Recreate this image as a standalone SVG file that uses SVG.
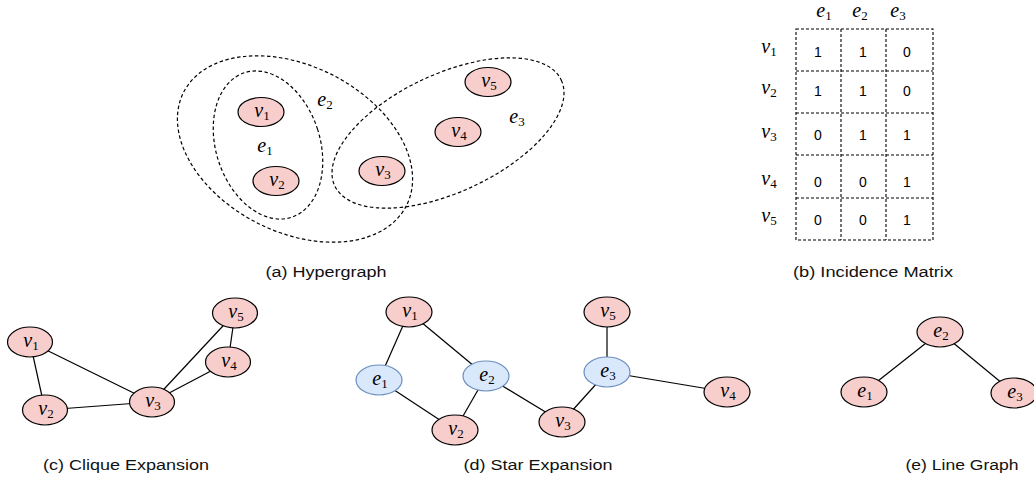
<svg xmlns="http://www.w3.org/2000/svg" width="1034" height="481" viewBox="0 0 1034 481">
<style>
.n{fill:#f8cecc;stroke:#000;stroke-width:1.2}
.b{fill:#dae8fc;stroke:#6c8ebf;stroke-width:1.2}
.h{fill:none;stroke:#000;stroke-width:1.2;stroke-dasharray:3.5 2.5}
.g{fill:none;stroke:#000;stroke-width:1.1;stroke-dasharray:3 2}
.e{stroke:#000;stroke-width:1.2;fill:none}
.m{font-family:"Liberation Serif","DejaVu Serif",serif;font-style:italic;font-size:20px;text-anchor:middle}
.s{font-size:13px;font-style:normal}
.c{font-family:"Liberation Sans",Arial,sans-serif;font-size:14px;text-anchor:middle;fill:#111}
.d{font-family:"Liberation Sans",Arial,sans-serif;font-size:14px;text-anchor:middle}
</style>
<rect width="1034" height="481" fill="#fff"/>

<!-- (a) Hypergraph -->
<g id="hyperedges">
<ellipse class="h" cx="268" cy="145" rx="52" ry="76" transform="rotate(-18 268 145)"/>
<ellipse class="h" cx="295" cy="149" rx="125" ry="83" transform="rotate(27 295 149)"/>
<ellipse class="h" cx="448" cy="133" rx="125" ry="59" transform="rotate(-25 448 133)"/>
</g>
<g id="a-labels">
<text class="m" x="265" y="152">e<tspan class="s" dy="3">1</tspan></text>
<text class="m" x="325" y="106">e<tspan class="s" dy="3">2</tspan></text>
<text class="m" x="517" y="123">e<tspan class="s" dy="3">3</tspan></text>
</g>
<g id="a-v1"><ellipse class="n" cx="261" cy="112" rx="23" ry="14.5"/><text class="m" x="262" y="117">v<tspan class="s" dy="3">1</tspan></text></g>
<g id="a-v2"><ellipse class="n" cx="276" cy="181" rx="23" ry="14.5"/><text class="m" x="277" y="186">v<tspan class="s" dy="3">2</tspan></text></g>
<g id="a-v3"><ellipse class="n" cx="382" cy="171" rx="23" ry="14.5"/><text class="m" x="383" y="176">v<tspan class="s" dy="3">3</tspan></text></g>
<g id="a-v4"><ellipse class="n" cx="458" cy="132" rx="23" ry="14.5"/><text class="m" x="459" y="137">v<tspan class="s" dy="3">4</tspan></text></g>
<g id="a-v5"><ellipse class="n" cx="488" cy="82" rx="23" ry="14.5"/><text class="m" x="489" y="87">v<tspan class="s" dy="3">5</tspan></text></g>
<text class="c" x="326" y="277" textLength="121" lengthAdjust="spacingAndGlyphs">(a) Hypergraph</text>

<!-- (b) Incidence Matrix -->
<g id="matrix">
<rect class="g" x="796" y="29" width="137" height="211"/>
<line class="g" x1="841" y1="29" x2="841" y2="240"/>
<line class="g" x1="886" y1="29" x2="886" y2="240"/>
<line class="g" x1="796" y1="71" x2="933" y2="71"/>
<line class="g" x1="796" y1="113" x2="933" y2="113"/>
<line class="g" x1="796" y1="155" x2="933" y2="155"/>
<line class="g" x1="796" y1="198" x2="933" y2="198"/>
<text class="m" x="824" y="17">e<tspan class="s" dy="3">1</tspan></text>
<text class="m" x="860" y="17">e<tspan class="s" dy="3">2</tspan></text>
<text class="m" x="898" y="17">e<tspan class="s" dy="3">3</tspan></text>
<text class="m" x="769" y="53">v<tspan class="s" dy="3">1</tspan></text>
<text class="m" x="769" y="94">v<tspan class="s" dy="3">2</tspan></text>
<text class="m" x="769" y="138">v<tspan class="s" dy="3">3</tspan></text>
<text class="m" x="769" y="185">v<tspan class="s" dy="3">4</tspan></text>
<text class="m" x="769" y="222">v<tspan class="s" dy="3">5</tspan></text>
<text class="d" x="818" y="57">1</text><text class="d" x="863" y="57">1</text><text class="d" x="907" y="57">0</text>
<text class="d" x="818" y="96">1</text><text class="d" x="863" y="96">1</text><text class="d" x="907" y="96">0</text>
<text class="d" x="818" y="140">0</text><text class="d" x="863" y="140">1</text><text class="d" x="907" y="140">1</text>
<text class="d" x="818" y="187">0</text><text class="d" x="863" y="187">0</text><text class="d" x="907" y="187">1</text>
<text class="d" x="818" y="225">0</text><text class="d" x="863" y="225">0</text><text class="d" x="907" y="225">1</text>
</g>
<text class="c" x="873" y="277" textLength="160" lengthAdjust="spacingAndGlyphs">(b) Incidence Matrix</text>

<!-- connectors -->
<g id="connectors">
<line class="e" x1="30" y1="342" x2="45" y2="410"/>
<line class="e" x1="30" y1="342" x2="152" y2="402"/>
<line class="e" x1="45" y1="410" x2="152" y2="402"/>
<line class="e" x1="152" y1="402" x2="228" y2="362"/>
<line class="e" x1="152" y1="402" x2="235" y2="313"/>
<line class="e" x1="228" y1="362" x2="235" y2="313"/>
<line class="e" x1="409" y1="312" x2="379" y2="380"/>
<line class="e" x1="409" y1="312" x2="486" y2="376"/>
<line class="e" x1="379" y1="380" x2="455" y2="430"/>
<line class="e" x1="486" y1="376" x2="455" y2="430"/>
<line class="e" x1="486" y1="376" x2="562" y2="422"/>
<line class="e" x1="562" y1="422" x2="607" y2="372"/>
<line class="e" x1="607" y1="372" x2="607" y2="312"/>
<line class="e" x1="607" y1="372" x2="727" y2="392"/>
<line class="e" x1="940" y1="332" x2="864" y2="392"/>
<line class="e" x1="940" y1="332" x2="1014" y2="393"/>
</g>

<!-- (c) Clique Expansion -->
<g id="c-v1"><ellipse class="n" cx="30" cy="342" rx="22.5" ry="15"/><text class="m" x="31" y="347">v<tspan class="s" dy="3">1</tspan></text></g>
<g id="c-v2"><ellipse class="n" cx="45" cy="410" rx="22.5" ry="15"/><text class="m" x="46" y="415">v<tspan class="s" dy="3">2</tspan></text></g>
<g id="c-v3"><ellipse class="n" cx="152" cy="402" rx="22.5" ry="15"/><text class="m" x="153" y="407">v<tspan class="s" dy="3">3</tspan></text></g>
<g id="c-v4"><ellipse class="n" cx="228" cy="362" rx="22.5" ry="15"/><text class="m" x="229" y="367">v<tspan class="s" dy="3">4</tspan></text></g>
<g id="c-v5"><ellipse class="n" cx="235" cy="313" rx="22.5" ry="15"/><text class="m" x="236" y="318">v<tspan class="s" dy="3">5</tspan></text></g>
<text class="c" x="126" y="470" textLength="166" lengthAdjust="spacingAndGlyphs">(c) Clique Expansion</text>

<!-- (d) Star Expansion -->
<g id="d-v1"><ellipse class="n" cx="409" cy="312" rx="23" ry="15"/><text class="m" x="410" y="317">v<tspan class="s" dy="3">1</tspan></text></g>
<g id="d-e1"><ellipse class="b" cx="379" cy="380" rx="23" ry="15"/><text class="m" x="380" y="385">e<tspan class="s" dy="3">1</tspan></text></g>
<g id="d-e2"><ellipse class="b" cx="486" cy="376" rx="23" ry="15"/><text class="m" x="487" y="381">e<tspan class="s" dy="3">2</tspan></text></g>
<g id="d-v2"><ellipse class="n" cx="455" cy="430" rx="23" ry="15"/><text class="m" x="456" y="435">v<tspan class="s" dy="3">2</tspan></text></g>
<g id="d-v3"><ellipse class="n" cx="562" cy="422" rx="23" ry="15"/><text class="m" x="563" y="427">v<tspan class="s" dy="3">3</tspan></text></g>
<g id="d-e3"><ellipse class="b" cx="607" cy="372" rx="23" ry="15"/><text class="m" x="608" y="377">e<tspan class="s" dy="3">3</tspan></text></g>
<g id="d-v5"><ellipse class="n" cx="607" cy="312" rx="23" ry="15"/><text class="m" x="608" y="317">v<tspan class="s" dy="3">5</tspan></text></g>
<g id="d-v4"><ellipse class="n" cx="727" cy="392" rx="23" ry="15"/><text class="m" x="728" y="397">v<tspan class="s" dy="3">4</tspan></text></g>
<text class="c" x="538" y="470" textLength="149" lengthAdjust="spacingAndGlyphs">(d) Star Expansion</text>

<!-- (e) Line Graph -->
<g id="e-e2"><ellipse class="n" cx="940" cy="332" rx="23" ry="15"/><text class="m" x="941" y="337">e<tspan class="s" dy="3">2</tspan></text></g>
<g id="e-e1"><ellipse class="n" cx="864" cy="392" rx="23" ry="15"/><text class="m" x="865" y="397">e<tspan class="s" dy="3">1</tspan></text></g>
<g id="e-e3"><ellipse class="n" cx="1014" cy="393" rx="23" ry="15"/><text class="m" x="1015" y="398">e<tspan class="s" dy="3">3</tspan></text></g>
<text class="c" x="962" y="470" textLength="113" lengthAdjust="spacingAndGlyphs">(e) Line Graph</text>
</svg>
